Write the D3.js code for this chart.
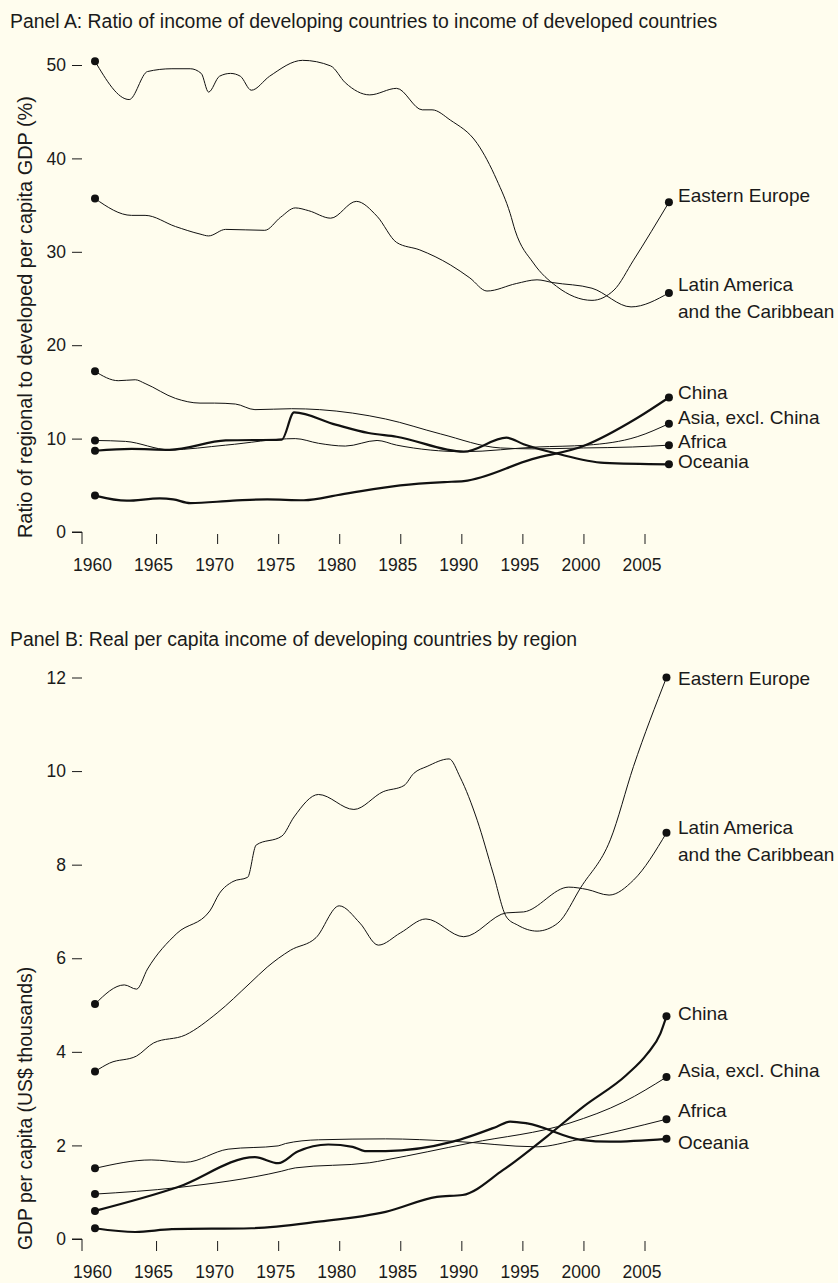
<!DOCTYPE html>
<html>
<head>
<meta charset="utf-8">
<script src="https://cdn.jsdelivr.net/npm/d3@7"></script>
<style>
  html, body { margin: 0; padding: 0; background: #fffdee; }
  svg { display: block; font-family: "Liberation Sans", Arial, Helvetica, sans-serif; }
  text { fill: #1a1a1a; }
</style>
</head>
<body>
<div id="chart"></div>
<script>
// Panel A: ratio of regional to developed per capita GDP (%)
var aEastEurope = [[1960,50.4],[1962.8,46.3],[1964.3,49.3],[1966.3,49.6],[1967.8,49.6],[1968.7,49.1],[1969.3,47.1],[1970.2,48.8],[1971.1,49.1],[1971.9,48.8],[1972.8,47.3],[1974.3,48.8],[1977,50.5],[1979.3,49.9],[1980.5,48.1],[1982.5,46.8],[1984.7,47.5],[1986.8,45.2],[1987.6,45.2],[1989.1,44.1],[1991.3,41.6],[1992.9,37.7],[1994,34.1],[1994.4,32.3],[1995.9,28.8],[1997.8,26.3],[2000.7,24.8],[2002.5,25.9],[2004.1,29.1],[2007,35.3]];
var aLatinAm = [[1960,35.7],[1963,33.9],[1964.1,33.9],[1966.6,32.7],[1968.6,31.9],[1969.3,31.7],[1970.7,32.4],[1973.9,32.3],[1975.2,33.7],[1976.4,34.7],[1977.5,34.4],[1979.3,33.6],[1981.4,35.4],[1983.1,33.8],[1984.7,31.0],[1986.6,30.2],[1989.1,28.6],[1990.7,27.2],[1992.1,25.8],[1994.5,26.6],[1996.2,27.0],[1997.5,26.7],[2000.7,26.1],[2003.9,24.1],[2007,25.6]];
var aChina = [[1960,3.9],[1962.6,3.35],[1965.3,3.6],[1966.4,3.5],[1967.8,3.1],[1971.3,3.35],[1974.1,3.5],[1977.1,3.4],[1980.1,4.0],[1985,5.0],[1988.6,5.35],[1990.2,5.45],[1995.8,7.8],[2000,9.2],[2004.4,12.2],[2007,14.4]];
var aAsia = [[1960,9.8],[1962.5,9.7],[1966.1,8.8],[1970.7,9.3],[1976.4,10.0],[1978.3,9.5],[1980.5,9.2],[1983.1,9.8],[1984.7,9.3],[1990.2,8.6],[1996.2,9.1],[2000.3,9.3],[2004.4,10.2],[2007,11.6]];
var aAfrica = [[1960,17.2],[1961.9,16.2],[1963.3,16.3],[1964.1,15.9],[1966.6,14.3],[1968.6,13.8],[1969.8,13.8],[1971.5,13.7],[1973.1,13.1],[1976.1,13.2],[1978.4,13.1],[1983.8,12.1],[1988.3,10.5],[1993.2,9.0],[1996,8.9],[2000,9.0],[2004,9.1],[2007,9.3]];
var aOceania = [[1960,8.7],[1963,8.9],[1966.1,8.8],[1970.7,9.8],[1975.3,9.9],[1976.3,12.8],[1979.7,11.5],[1982.4,10.6],[1984.7,10.2],[1990.2,8.6],[1993.7,10.1],[1995.1,9.4],[1997.8,8.4],[2001.7,7.4],[2007,7.25]];

// Panel B: GDP per capita (US$ thousands)
var bEastEurope = [[1960,5.02],[1962.4,5.43],[1963.4,5.34],[1964.3,5.77],[1966.7,6.53],[1969.4,7.01],[1970.2,7.39],[1971.3,7.64],[1972.5,7.73],[1973.2,8.42],[1975.3,8.61],[1976.3,9.02],[1978.3,9.5],[1981.2,9.18],[1983.6,9.56],[1985.3,9.69],[1986.1,9.95],[1987.2,10.1],[1989,10.26],[1989.9,9.87],[1991.3,8.95],[1992.6,7.82],[1993.7,6.88],[1994.6,6.71],[1996.2,6.58],[1997.9,6.75],[1999.8,7.52],[2002.2,8.53],[2004.1,10.1],[2006.8,12.0]];
var bLatinAm = [[1960,3.58],[1961.2,3.76],[1963.4,3.91],[1964.8,4.19],[1967.4,4.36],[1970,4.83],[1972.7,5.47],[1974.1,5.81],[1976,6.17],[1978.1,6.44],[1980,7.12],[1981.7,6.75],[1983.2,6.28],[1985,6.54],[1987.1,6.84],[1990.2,6.46],[1993.7,6.97],[1995.1,6.99],[1998.8,7.52],[2000.3,7.47],[2002.1,7.35],[2004.1,7.67],[2006.8,8.68]];
var bChina = [[1960,0.23],[1963.3,0.15],[1966.3,0.21],[1972.8,0.23],[1978.3,0.37],[1983.8,0.58],[1988,0.9],[1990.1,0.94],[1993.4,1.47],[1997,2.19],[2000,2.83],[2003.5,3.5],[2005.2,3.95],[2006.3,4.39],[2006.8,4.76]];
var bAsia = [[1960,0.96],[1966.8,1.1],[1975.3,1.45],[1976.4,1.52],[1982.5,1.63],[1983.8,1.69],[1990.7,2.05],[1998.9,2.48],[2003.3,2.93],[2006.8,3.46]];
var bAfrica = [[1960,1.51],[1964.6,1.69],[1967.4,1.64],[1970.9,1.92],[1975,1.99],[1975.6,2.04],[1978.3,2.12],[1983.8,2.14],[1989.3,2.09],[1996.2,1.97],[1999.5,2.12],[2006.8,2.56]];
var bOceania = [[1960,0.6],[1966.8,1.11],[1973.1,1.75],[1975,1.62],[1976.6,1.87],[1979.1,2.02],[1981.1,1.97],[1982.1,1.88],[1983.8,1.88],[1989.3,2.08],[1992.9,2.4],[1994,2.51],[1995.4,2.47],[1999.8,2.12],[2002.2,2.08],[2006.8,2.14]];

var yearTicks = [1960, 1965, 1970, 1975, 1980, 1985, 1990, 1995, 2000, 2005];
var aTicks = [0, 10, 20, 30, 40, 50];
var bTicks = [0, 2, 4, 6, 8, 10, 12];

var W = 838, H = 1283;

var x = d3.scaleLinear().domain([1960, 2005]).range([95, 644.5]);
var yA = d3.scaleLinear().domain([0, 50]).range([532, 65]);
var yB = d3.scaleLinear().domain([0, 12]).range([1239, 677.5]);

var svg = d3.select("#chart").append("svg")
    .attr("width", W)
    .attr("height", H);

svg.append("rect").attr("width", W).attr("height", H).attr("fill", "#fffdee");

function drawAxes(y, ticks) {
    var y0 = y(0);
    var ya = svg.append("g")
        .attr("transform", "translate(82,0)")
        .call(d3.axisLeft(y).tickValues(ticks).tickSize(10).tickPadding(6));
    ya.select(".domain").remove();
    ya.selectAll("text").attr("font-size", 17.5).attr("font-family", null).attr("fill", "#1a1a1a");
    ya.selectAll("line").attr("stroke", "#1a1a1a");

    // little corner at the origin
    svg.append("path")
        .attr("d", "M72," + y0 + "H82V" + (y0 + 12))
        .attr("fill", "none")
        .attr("stroke", "#1a1a1a");

    var xa = svg.append("g")
        .attr("transform", "translate(0," + (y0 + 2) + ")")
        .call(d3.axisBottom(x).tickValues(yearTicks).tickFormat(d => d).tickSize(10));
    xa.select(".domain").remove();
    xa.selectAll(".tick").filter(d => d == 1960).select("line").remove();
    xa.selectAll("line").attr("stroke", "#1a1a1a");
    xa.selectAll("text")
        .attr("font-size", 17.5)
        .attr("font-family", null)
        .attr("fill", "#1a1a1a")
        .attr("y", 25)
        .attr("dx", -3);
}

function drawSeries(y, series) {
    var line = d3.line()
        .x(d => x(d[0]))
        .y(d => y(d[1]))
        .curve(d3.curveMonotoneX);

    series.forEach(s => {
        svg.append("path")
            .datum(s.data)
            .attr("d", line)
            .attr("fill", "none")
            .attr("stroke", "#111")
            .attr("stroke-width", s.thick ? 2.2 : 1)
            .attr("stroke-linejoin", "round");

        var first = s.data[0], last = s.data[s.data.length - 1];
        [first, last].forEach(p => {
            svg.append("circle")
                .attr("cx", x(p[0]))
                .attr("cy", y(p[1]))
                .attr("r", 4)
                .attr("fill", "#111");
        });

        var t = svg.append("text")
            .attr("x", 678)
            .attr("y", y(last[1]) + s.shift)
            .attr("font-size", 19);
        s.label.forEach((l, i) => {
            t.append("tspan").attr("x", 678).attr("dy", i == 0 ? 0 : 27).text(l);
        });
    });
}

// titles
svg.append("text").attr("x", 10).attr("y", 28).attr("font-size", 19.4)
    .text("Panel A: Ratio of income of developing countries to income of developed countries");
svg.append("text").attr("x", 10).attr("y", 646).attr("font-size", 19.4)
    .text("Panel B: Real per capita income of developing countries by region");

// y axis titles
svg.append("text")
    .attr("transform", "translate(32,538) rotate(-90)")
    .attr("font-size", 19.9)
    .text("Ratio of regional to developed per capita GDP (%)");
svg.append("text")
    .attr("transform", "translate(32,1250) rotate(-90)")
    .attr("font-size", 19.4)
    .text("GDP per capita (US$ thousands)");

drawAxes(yA, aTicks);
drawAxes(yB, bTicks);

drawSeries(yA, [
    {label: ["Eastern Europe"], data: aEastEurope, thick: false, shift: 0},
    {label: ["Latin America", "and the Caribbean"], data: aLatinAm, thick: false, shift: -2},
    {label: ["China"], data: aChina, thick: true, shift: 1},
    {label: ["Asia, excl. China"], data: aAsia, thick: false, shift: 0},
    {label: ["Africa"], data: aAfrica, thick: false, shift: 3},
    {label: ["Oceania"], data: aOceania, thick: true, shift: 4}
]);

drawSeries(yB, [
    {label: ["Eastern Europe"], data: bEastEurope, thick: false, shift: 7},
    {label: ["Latin America", "and the Caribbean"], data: bLatinAm, thick: false, shift: 1},
    {label: ["China"], data: bChina, thick: true, shift: 4},
    {label: ["Asia, excl. China"], data: bAsia, thick: false, shift: 0},
    {label: ["Africa"], data: bAfrica, thick: false, shift: -2},
    {label: ["Oceania"], data: bOceania, thick: true, shift: 10}
]);
</script>
</body>
</html>
